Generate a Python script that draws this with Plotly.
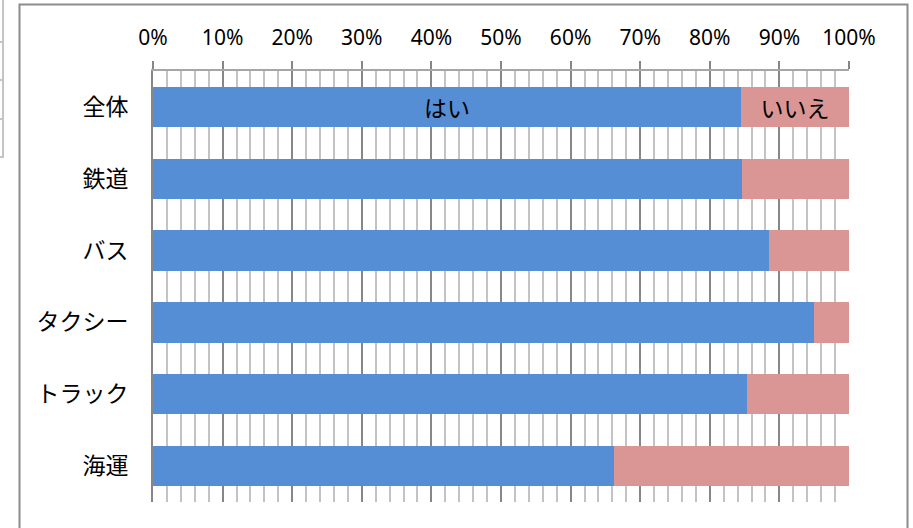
import plotly.graph_objects as go

categories = ["全体", "鉄道", "バス", "タクシー", "トラック", "海運"]
yes_values = [84.5, 84.6, 88.5, 94.9, 85.3, 66.2]
no_values = [15.5, 15.4, 11.5, 5.1, 14.7, 33.8]
yes_text = ["はい", "", "", "", "", ""]
no_text = ["いいえ", "", "", "", "", ""]
tick_vals = [0, 10, 20, 30, 40, 50, 60, 70, 80, 90, 100]
tick_text = ["0%", "10%", "20%", "30%", "40%", "50%", "60%", "70%", "80%", "90%", "100%"]

W, H = 913, 528
L, R, T, B = 153, 64, 71, 26
pw, ph = W - L - R, H - T - B


def px(x):
    return (x - L) / pw


def py(y):
    return (H - B - y) / ph


fig = go.Figure()
fig.add_trace(go.Bar(
    y=categories, x=yes_values, orientation="h", name="はい",
    marker=dict(color="#558ED5", line=dict(width=0)),
    text=yes_text, textposition="inside", insidetextanchor="middle",
    textfont=dict(color="black", size=23, family="Noto Sans CJK JP"),
    constraintext="none", hoverinfo="x+y",
))
fig.add_trace(go.Bar(
    y=categories, x=no_values, orientation="h", name="いいえ",
    marker=dict(color="#D99694", line=dict(width=0)),
    text=no_text, textposition="inside", insidetextanchor="middle",
    textfont=dict(color="black", size=23, family="Noto Sans CJK JP"),
    constraintext="none", hoverinfo="x+y",
))

shapes = [
    # outer chart frame
    dict(type="rect", xref="paper", yref="paper",
         x0=px(19.5), x1=px(907.5), y0=py(540), y1=py(4.5),
         line=dict(color="#8C8C8C", width=2), layer="below"),
    # left spreadsheet remnants
    dict(type="rect", xref="paper", yref="paper",
         x0=px(-10), x1=px(3), y0=py(157), y1=py(-5),
         line=dict(color="#C4C4C4", width=2), layer="below"),
]
for yy in [42, 80, 119]:
    shapes.append(dict(type="line", xref="paper", yref="paper",
                       x0=px(-10), x1=px(3), y0=py(yy), y1=py(yy),
                       line=dict(color="#C4C4C4", width=2)))

fig.update_layout(
    width=W, height=H,
    margin=dict(l=L, r=R, t=T, b=B),
    barmode="stack", bargap=0.44,
    plot_bgcolor="white", paper_bgcolor="white",
    showlegend=False,
    font=dict(family="Noto Sans CJK JP", color="black"),
    uniformtext=dict(mode=False),
    xaxis=dict(
        side="top", range=[0, 100], tickvals=tick_vals, ticktext=tick_text,
        showgrid=True, gridcolor="#878787", gridwidth=2,
        minor=dict(dtick=2, showgrid=True, gridcolor="#C3C3C3", gridwidth=2, ticks=""),
        ticks="outside", ticklen=8, tickwidth=2, tickcolor="#878787",
        showline=True, linecolor="#A6A6A6", linewidth=2,
        zeroline=False,
        tickfont=dict(family="Noto Sans", size=21, color="black"),
        ticklabelstandoff=8,
    ),
    yaxis=dict(
        autorange="reversed", showgrid=False, zeroline=False,
        showline=True, linecolor="#878787", linewidth=2,
        ticks="", ticklabelstandoff=18,
        tickfont=dict(family="Noto Sans CJK JP", size=23, color="black"),
    ),
    shapes=shapes,
)

fig.write_html(
    "out.html",
    config={"displayModeBar": False},
    post_script="document.body.style.margin='0';document.body.style.overflow='hidden';",
)
